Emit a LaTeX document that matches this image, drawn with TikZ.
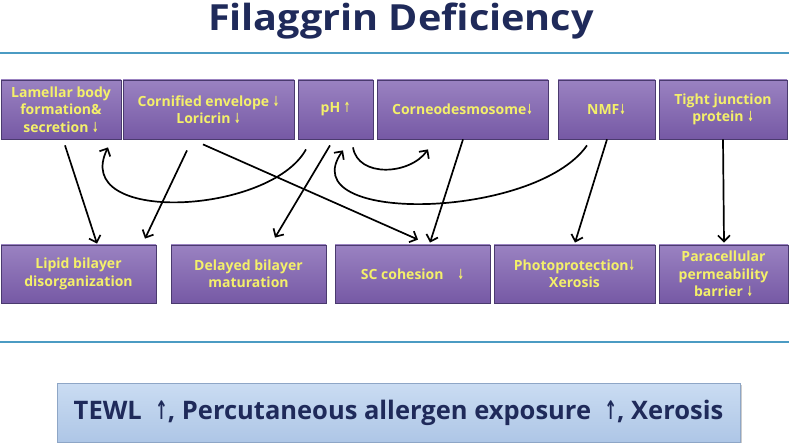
\documentclass[tikz,border=0pt]{standalone}
\usepackage{fontspec}
\setmainfont{Open Sans}
\newfontfamily\arr{DejaVu Sans}
\usetikzlibrary{arrows.meta,calc,shadows}
\definecolor{navy}{HTML}{1F2A5A}
\definecolor{sepline}{HTML}{4B9BC3}
\definecolor{ptop}{HTML}{9A82C1}
\definecolor{pbot}{HTML}{7659A5}
\definecolor{pborder}{HTML}{4A3A6E}
\definecolor{ytext}{HTML}{F4F06A}
\definecolor{btop}{HTML}{CADCF2}
\definecolor{bbot}{HTML}{AEC6E6}
\definecolor{bborder}{HTML}{8EA6C6}
\newcommand{\dn}{{\arr\scalebox{0.55}[1]{↓}}}
\newcommand{\upa}{{\arr\scalebox{0.55}[1]{↑}}}
\tikzset{
  pbox/.style={draw=pborder, line width=0.8pt, top color=ptop, bottom color=pbot,
    text=ytext, font=\fontsize{14}{17.5}\selectfont\bfseries, align=center,
    inner sep=2pt, drop shadow={shadow xshift=1.2pt, shadow yshift=-1.2pt, opacity=0.45}},
  conn/.style={line width=1.7pt, -{Straight Barb[length=6pt,width=12pt]}},
  sep/.style={draw=sepline, line width=1.6pt},
}
\begin{document}
\begin{tikzpicture}[x=1pt,y=-1pt]
\useasboundingbox (0,0) rectangle (789,443);
\fill[white] (0,0) rectangle (789,443);
% title
\node[anchor=base, text=navy, font=\fontsize{36}{42}\selectfont\bfseries] (title) at (401,31) {\scalebox{1.1}[1]{Filaggrin Deficiency}};
\draw[sep] (0,53) -- (789,53);
\draw[sep] (0,342) -- (789,342);
% top boxes
\node[pbox, minimum width=120, minimum height=59] (lam) at (61,109.5) {Lamellar body\\formation\&\\secretion \dn};
\node[pbox, minimum width=171, minimum height=59] (cor) at (208.5,109.5) {Cornified envelope \dn\\Loricrin \dn};
\node[pbox, minimum width=75, minimum height=59] (ph) at (335.5,109.5) {pH \upa};
\node[pbox, minimum width=171, minimum height=59] (cdm) at (462.5,109.5) {Corneodesmosome\dn};
\node[pbox, minimum width=97, minimum height=59] (nmf) at (606.5,109.5) {NMF\dn};
\node[pbox, minimum width=128, minimum height=59] (tj) at (723,109.5) {Tight junction\\protein \dn};
% bottom boxes
\node[pbox, minimum width=155, minimum height=58] (lip) at (78.5,274) {Lipid bilayer\\disorganization};
\node[pbox, minimum width=155, minimum height=58] (del) at (248.5,274) {Delayed bilayer\\maturation};
\node[pbox, minimum width=155, minimum height=58] (sc) at (412.5,274) {SC cohesion\quad\dn};
\node[pbox, minimum width=161, minimum height=58] (pho) at (574.5,274) {Photoprotection\dn\\Xerosis};
\node[pbox, minimum width=129, minimum height=58] (par) at (723.5,274) {Paracellular\\permeability\\barrier \dn};
% result box
\node[draw=bborder, line width=0.8pt, top color=btop, bottom color=bbot, text=navy,
  font=\fontsize{25.5}{30}\selectfont\bfseries, minimum width=683, minimum height=59,
  drop shadow={shadow xshift=1.5pt, shadow yshift=-1.5pt, opacity=0.4}] (res) at (398.5,412.5)
  {TEWL \ {\arr\scalebox{0.6}[1]{↑}}, Percutaneous allergen exposure \ {\arr\scalebox{0.6}[1]{↑}}, Xerosis};
% straight connectors
\draw[conn] ($(lam.south)+(4,6)$) -- ($(lip.north)+(18.5,-1)$);
\draw[conn] ($(cor.south)+(-21.5,11)$) -- ($(lip.north)+(66.5,-6)$);
\draw[conn] ($(cor.south)+(-5.5,5)$) -- ($(sc.north)+(5.5,-5)$);
\draw[conn] ($(ph.south)+(-5.5,6)$) -- ($(del.north)+(26.5,-7)$);
\draw[conn] ($(cdm.south)+(0.5,0)$) -- ($(sc.north)+(17.5,-2)$);
\draw[conn] ($(nmf.south)+(0.5,0)$) -- ($(pho.north)+(0.5,-2)$);
\draw[conn] (tj.south) -- ($(par.north)+(0.5,-2)$);
% curved connectors
\draw[conn] ($(ph.south)+(-29.5,10)$) .. controls (270,215) and (70,225) .. ($(lam.south)+(47,8)$);
\draw[conn] ($(ph.south)+(17.5,8)$) .. controls (358,178) and (410,175) .. ($(cdm.south)+(-34.5,10)$);
\draw[conn] ($(nmf.south)+(-19.5,6)$) .. controls (535,220) and (290,225) .. ($(ph.south)+(7.5,11)$);
\end{tikzpicture}
\end{document}
